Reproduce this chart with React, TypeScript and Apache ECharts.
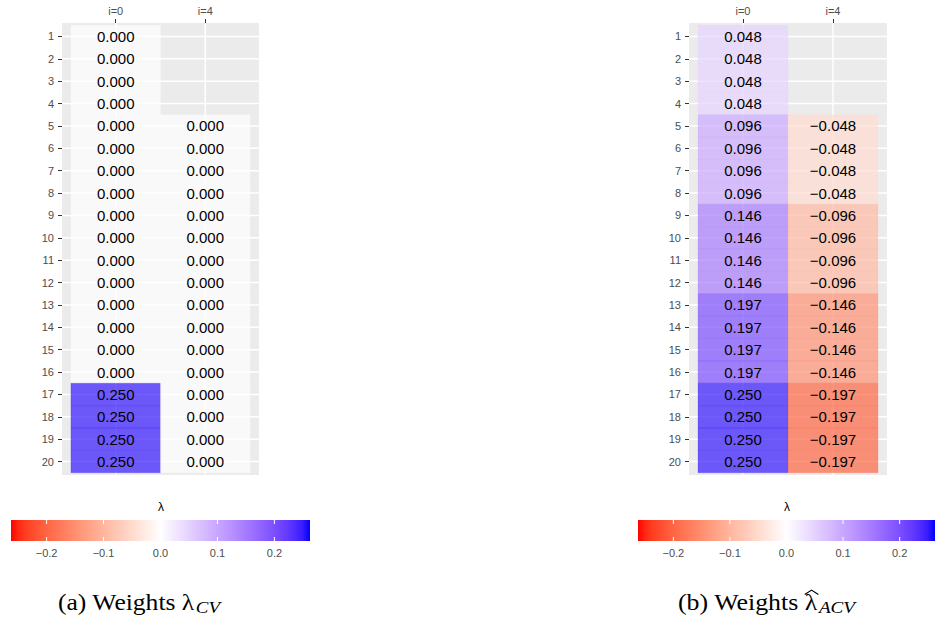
import React, { useEffect, useRef } from "react";
import * as echarts from "echarts";

const rowLabels = ["1","2","3","4","5","6","7","8","9","10","11","12","13","14","15","16","17","18","19","20"];
const colLabels = ["i=0", "i=4"];

const cvCol0 = [0,0,0,0, 0,0,0,0, 0,0,0,0, 0,0,0,0, 0.25,0.25,0.25,0.25];
const cvCol4 = [null,null,null,null, 0,0,0,0, 0,0,0,0, 0,0,0,0, 0,0,0,0];
const acvCol0 = [0.048,0.048,0.048,0.048, 0.096,0.096,0.096,0.096, 0.146,0.146,0.146,0.146, 0.197,0.197,0.197,0.197, 0.25,0.25,0.25,0.25];
const acvCol4 = [null,null,null,null, -0.048,-0.048,-0.048,-0.048, -0.096,-0.096,-0.096,-0.096, -0.146,-0.146,-0.146,-0.146, -0.197,-0.197,-0.197,-0.197];

const barTicks = [-0.2, -0.1, 0, 0.1, 0.2];
const barTickLabels = ["\u22120.2", "\u22120.1", "0.0", "0.1", "0.2"];
const barLimit = 0.2625;

// ---- Lab colour interpolation (red - white - blue) ----
function toLin(c: number) { c /= 255; return c <= 0.04045 ? c / 12.92 : Math.pow((c + 0.055) / 1.055, 2.4); }
function fromLin(c: number) { const v = c <= 0.0031308 ? 12.92 * c : 1.055 * Math.pow(c, 1 / 2.4) - 0.055; return Math.max(0, Math.min(255, Math.round(v * 255))); }
const WX = 0.95047, WY = 1.0, WZ = 1.08883;
function rgbToLab(rgb: number[]) {
  const r = toLin(rgb[0]), g = toLin(rgb[1]), b = toLin(rgb[2]);
  const X = (0.4124 * r + 0.3576 * g + 0.1805 * b) / WX;
  const Y = (0.2126 * r + 0.7152 * g + 0.0722 * b) / WY;
  const Z = (0.0193 * r + 0.1192 * g + 0.9505 * b) / WZ;
  const f = (t: number) => (t > 0.008856 ? Math.cbrt(t) : 7.787 * t + 16 / 116);
  const fx = f(X), fy = f(Y), fz = f(Z);
  return [116 * fy - 16, 500 * (fx - fy), 200 * (fy - fz)];
}
function labToRgb(lab: number[]) {
  const fy = (lab[0] + 16) / 116, fx = fy + lab[1] / 500, fz = fy - lab[2] / 200;
  const inv = (t: number) => (t * t * t > 0.008856 ? t * t * t : (t - 16 / 116) / 7.787);
  const X = inv(fx) * WX, Y = inv(fy) * WY, Z = inv(fz) * WZ;
  const r = 3.2406 * X - 1.5372 * Y - 0.4986 * Z;
  const g = -0.9689 * X + 1.8758 * Y + 0.0415 * Z;
  const b = 0.0557 * X - 0.204 * Y + 1.057 * Z;
  return [fromLin(r), fromLin(g), fromLin(b)];
}
const LAB_RED = rgbToLab([255, 0, 0]);
const LAB_WHITE = rgbToLab([255, 255, 255]);
const LAB_BLUE = rgbToLab([0, 0, 255]);
function colorFor(v: number, alpha: number) {
  let t = v / barLimit;
  t = Math.max(-1, Math.min(1, t));
  const end = t < 0 ? LAB_RED : LAB_BLUE;
  const k = Math.abs(t);
  const lab = [0, 1, 2].map((i) => LAB_WHITE[i] + (end[i] - LAB_WHITE[i]) * k);
  const c = labToRgb(lab);
  return `rgba(${c[0]},${c[1]},${c[2]},${alpha})`;
}

function tileData(cols: (number | null)[][]) {
  const out: number[][] = [];
  cols.forEach((col, c) => col.forEach((v, r) => { if (v !== null) out.push([c, r, v]); }));
  return out;
}
function fmt(v: number) {
  return v.toFixed(3).replace("-", "\u2212");
}

const FONT = "Liberation Sans";
const SERIF = "Liberation Serif";

function measure(text: string, font: string) {
  const cv = document.createElement("canvas");
  const ctx = cv.getContext("2d");
  if (!ctx) return text.length * 10;
  ctx.font = font;
  return ctx.measureText(text).width;
}

function caption(prefix: string, sub: string, hat: boolean, cx: number, targetW: number) {
  const mainFont = `23px "${SERIF}"`;
  const subFont = `italic 17px "${SERIF}"`;
  const mainText = prefix + "\u03bb";
  const wMain = measure(mainText, mainFont);
  const wPre = measure(prefix, mainFont);
  const wLam = measure("\u03bb", mainFont);
  const wSub = measure(sub, subFont);
  const total = wMain + 1 + wSub;
  const sx = targetW / total;
  const children: any[] = [
    { type: "text", x: 0, y: 602, style: { text: mainText, fill: "#000", fontSize: 23, fontFamily: SERIF, align: "left", verticalAlign: "middle" } },
    { type: "text", x: wMain + 1, y: 607.5, style: { text: sub, fill: "#000", fontSize: 17, fontStyle: "italic", fontFamily: SERIF, align: "left", verticalAlign: "middle" } },
  ];
  if (hat) {
    children.push({
      type: "polyline",
      shape: { points: [[wPre - 0.5, 594.5], [wPre + wLam / 2, 590], [wPre + wLam + 0.5, 594.5]] },
      style: { stroke: "#000", lineWidth: 1, fill: null },
    });
  }
  return { type: "group", x: cx - targetW / 2, y: 0, scaleX: sx, children };
}

export default function App() {
  const ref = useRef<HTMLDivElement>(null);
  useEffect(() => {
    if (!ref.current) return;
    const chart = echarts.init(ref.current, undefined, { renderer: "svg" });

    const panels = [
      { left: 62, width: 197, data: tileData([cvCol0, cvCol4]) },
      { left: 689, width: 198, data: tileData([acvCol0, acvCol4]) },
    ];
    const bars = [{ left: 11 }, { left: 638 }];

    const grids: any[] = [];
    const xAxes: any[] = [];
    const yAxes: any[] = [];
    const series: any[] = [];

    const rowIdx = rowLabels.map((_, i) => i);
    const colIdx = colLabels.map((_, i) => i);

    panels.forEach((p, gi) => {
      grids.push({ left: p.left, top: 23, width: p.width, height: 452, show: true, backgroundColor: "#EBEBEB", borderWidth: 0 });
      xAxes.push({
        gridIndex: gi, type: "value", position: "top", min: -0.6, max: 1.6,
        axisLine: { show: true, onZero: false, lineStyle: { color: "rgba(0,0,0,0)", width: 0 } }, splitLine: { show: false },
        axisTick: { show: true, customValues: colIdx, length: 4, lineStyle: { color: "#333333", width: 1 } },
        axisLabel: { customValues: colIdx, formatter: (v: number) => colLabels[Math.round(v)], color: "#4D4D4D", fontSize: 11, fontFamily: FONT, margin: 7 },
      });
      yAxes.push({
        gridIndex: gi, type: "value", inverse: true, min: -0.6, max: 19.6,
        axisLine: { show: true, onZero: false, lineStyle: { color: "rgba(0,0,0,0)", width: 0 } }, splitLine: { show: false },
        axisTick: { show: true, customValues: rowIdx, length: 4, lineStyle: { color: "#333333", width: 1 } },
        axisLabel: { customValues: rowIdx, formatter: (v: number) => rowLabels[Math.round(v)], color: "#4D4D4D", fontSize: 11, fontFamily: FONT, margin: 8 },
      });
      // horizontal grid lines
      series.push({
        type: "custom", xAxisIndex: gi, yAxisIndex: gi, z: 1, silent: true,
        data: rowIdx.map((r) => [0, r]),
        renderItem: (params: any, api: any) => {
          const cs = params.coordSys;
          const y = api.coord([0, api.value(1)])[1];
          return { type: "line", shape: { x1: cs.x, y1: y, x2: cs.x + cs.width, y2: y }, style: { stroke: "#FFFFFF", lineWidth: 1.4 } };
        },
      });
      // vertical grid lines
      series.push({
        type: "custom", xAxisIndex: gi, yAxisIndex: gi, z: 1, silent: true,
        data: colIdx.map((c) => [c, 0]),
        renderItem: (params: any, api: any) => {
          const cs = params.coordSys;
          const x = api.coord([api.value(0), 0])[0];
          return { type: "line", shape: { x1: x, y1: cs.y, x2: x, y2: cs.y + cs.height }, style: { stroke: "#FFFFFF", lineWidth: 1.4 } };
        },
      });
      // tiles
      series.push({
        type: "custom", xAxisIndex: gi, yAxisIndex: gi, z: 2, silent: true,
        data: p.data,
        renderItem: (params: any, api: any) => {
          const v = api.value(2);
          const c = api.coord([api.value(0), api.value(1)]);
          const s = api.size([1, 1]);
          const fill = colorFor(v, 0.7);
          return {
            type: "group",
            children: [
              { type: "rect", shape: { x: c[0] - s[0] / 2, y: c[1] - s[1] / 2, width: s[0], height: s[1] }, style: { fill, stroke: colorFor(v, 0.35), lineWidth: 0.6 } },
              { type: "text", x: c[0], y: c[1], style: { text: fmt(v), fill: "#000000", fontSize: 15, fontFamily: FONT, align: "center", verticalAlign: "middle" } },
            ],
          };
        },
      });
    });

    bars.forEach((b, bi) => {
      const gi = panels.length + bi;
      grids.push({ left: b.left, top: 520, width: 299, height: 21, show: false });
      xAxes.push({
        gridIndex: gi, type: "value", position: "bottom", min: -barLimit, max: barLimit,
        axisLine: { show: false }, splitLine: { show: false }, axisTick: { show: false },
        axisLabel: { customValues: barTicks, formatter: (v: number) => barTickLabels[barTicks.findIndex((t) => Math.abs(t - v) < 1e-6)], color: "#4D4D4D", fontSize: 11, fontFamily: FONT, margin: 6 },
      });
      yAxes.push({ gridIndex: gi, type: "value", min: 0, max: 1, show: false });
      const stops: any[] = [];
      for (let k = 0; k <= 40; k++) {
        const v = -barLimit + (2 * barLimit * k) / 40;
        stops.push({ offset: k / 40, color: colorFor(v, 1) });
      }
      series.push({
        type: "custom", xAxisIndex: gi, yAxisIndex: gi, z: 2, silent: true,
        data: [[0, 0]],
        renderItem: (params: any, api: any) => {
          const p0 = api.coord([-barLimit, 0]);
          const p1 = api.coord([barLimit, 1]);
          const top = p1[1], bottom = p0[1];
          const children: any[] = [
            { type: "rect", shape: { x: p0[0], y: top, width: p1[0] - p0[0], height: bottom - top }, style: { fill: new echarts.graphic.LinearGradient(0, 0, 1, 0, stops) } },
          ];
          barTicks.forEach((t) => {
            const x = api.coord([t, 0])[0];
            children.push({ type: "line", shape: { x1: x, y1: top, x2: x, y2: top + 4 }, style: { stroke: "#FFFFFF", lineWidth: 1 } });
            children.push({ type: "line", shape: { x1: x, y1: bottom - 4, x2: x, y2: bottom }, style: { stroke: "#FFFFFF", lineWidth: 1 } });
          });
          return { type: "group", children };
        },
      });
    });

    const graphic: any[] = [
      { type: "text", x: 161, y: 507, style: { text: "\u03bb", fill: "#000", fontSize: 12, fontFamily: FONT, align: "center", verticalAlign: "middle" } },
      { type: "text", x: 787, y: 507, style: { text: "\u03bb", fill: "#000", fontSize: 12, fontFamily: FONT, align: "center", verticalAlign: "middle" } },
      caption("(a) Weights ", "CV", false, 139, 162),
      caption("(b) Weights ", "ACV", true, 766.5, 177),
    ];

    chart.setOption({
      animation: false,
      backgroundColor: "#FFFFFF",
      grid: grids,
      xAxis: xAxes,
      yAxis: yAxes,
      series,
      graphic,
    });
    return () => chart.dispose();
  }, []);
  return <div ref={ref} style={{ position: "fixed", left: 0, top: 0, width: 935, height: 625 }} />;
}
